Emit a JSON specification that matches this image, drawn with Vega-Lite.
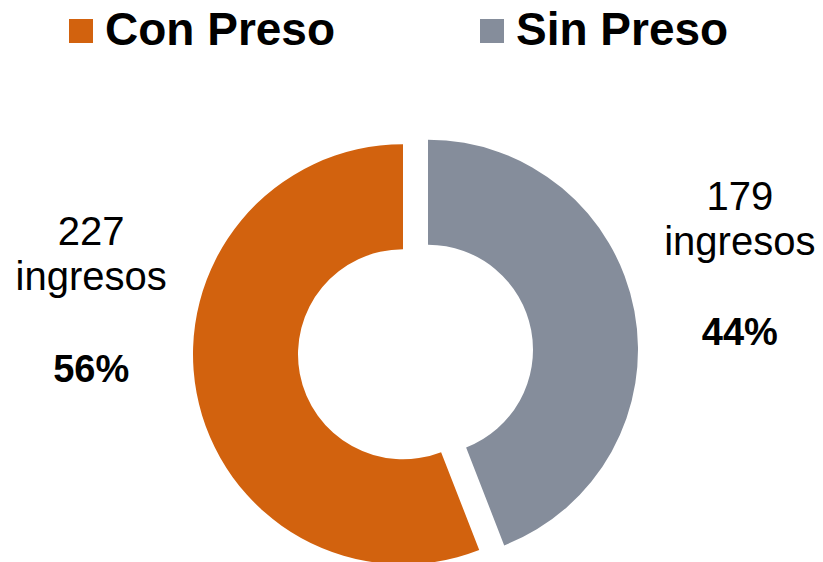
{
  "$schema": "https://vega.github.io/schema/vega-lite/v6.json",
  "width": 815,
  "height": 420,
  "autosize": {"type": "none"},
  "padding": {"left": 8, "top": 142, "right": 0, "bottom": 0},
  "background": "white",
  "config": {"view": {"stroke": null}, "font": "Liberation Sans"},
  "data": {"values": [
    {"cat": "Con Preso", "n": 227, "pct": "56%"},
    {"cat": "Sin Preso", "n": 179, "pct": "44%"}
  ]},
  "encoding": {
    "theta": {"field": "n", "type": "quantitative", "stack": true},
    "order": {"field": "cat", "sort": "descending"}
  },
  "layer": [
    {
      "mark": {"type": "arc", "outerRadius": 210, "innerRadius": 105, "xOffset": 12.5, "yOffset": -2.3},
      "encoding": {
        "color": {"field": "cat", "type": "nominal",
          "scale": {"domain": ["Con Preso", "Sin Preso"], "range": ["#D2620E", "#858D9B"]},
          "legend": {"orient": "none", "legendX": 50, "legendY": -134, "direction": "horizontal", "columns": 2,
            "title": null, "symbolType": "square", "symbolSize": 576, "symbolStrokeWidth": 0,
            "labelFont": "Liberation Sans", "labelFontSize": 46, "labelFontWeight": "bold", "labelColor": "black",
            "labelOffset": 1, "columnPadding": 133, "padding": 0, "labelLimit": 400}},
        "opacity": {"condition": {"test": "datum.cat === 'Sin Preso'", "value": 1}, "value": 0}
      }
    },
    {
      "mark": {"type": "arc", "outerRadius": 210, "innerRadius": 105, "xOffset": -12.5, "yOffset": 2.3},
      "encoding": {
        "color": {"field": "cat", "type": "nominal",
          "scale": {"domain": ["Con Preso", "Sin Preso"], "range": ["#D2620E", "#858D9B"]}},
        "opacity": {"condition": {"test": "datum.cat === 'Con Preso'", "value": 1}, "value": 0}
      }
    },
    {
      "mark": {"type": "text", "radius": 330, "dy": -81, "fontSize": 40, "color": "black", "align": "center", "baseline": "alphabetic"},
      "encoding": {
        "text": {"field": "n", "type": "quantitative"},
        "opacity": {"condition": {"test": "datum.cat === 'Sin Preso'", "value": 1}, "value": 0}
      }
    },
    {
      "mark": {"type": "text", "radius": 330, "dy": -36, "fontSize": 40, "color": "black", "align": "center", "baseline": "alphabetic"},
      "encoding": {
        "text": {"value": "ingresos"},
        "opacity": {"condition": {"test": "datum.cat === 'Sin Preso'", "value": 1}, "value": 0}
      }
    },
    {
      "mark": {"type": "text", "radius": 330, "dy": 54, "fontSize": 38, "fontWeight": "bold", "color": "black", "align": "center", "baseline": "alphabetic"},
      "encoding": {
        "text": {"field": "pct", "type": "nominal"},
        "opacity": {"condition": {"test": "datum.cat === 'Sin Preso'", "value": 1}, "value": 0}
      }
    },
    {
      "mark": {"type": "text", "radius": 330, "dy": -168, "fontSize": 40, "color": "black", "align": "center", "baseline": "alphabetic"},
      "encoding": {
        "text": {"field": "n", "type": "quantitative"},
        "opacity": {"condition": {"test": "datum.cat === 'Con Preso'", "value": 1}, "value": 0}
      }
    },
    {
      "mark": {"type": "text", "radius": 330, "dy": -123, "fontSize": 40, "color": "black", "align": "center", "baseline": "alphabetic"},
      "encoding": {
        "text": {"value": "ingresos"},
        "opacity": {"condition": {"test": "datum.cat === 'Con Preso'", "value": 1}, "value": 0}
      }
    },
    {
      "mark": {"type": "text", "radius": 330, "dy": -31, "fontSize": 38, "fontWeight": "bold", "color": "black", "align": "center", "baseline": "alphabetic"},
      "encoding": {
        "text": {"field": "pct", "type": "nominal"},
        "opacity": {"condition": {"test": "datum.cat === 'Con Preso'", "value": 1}, "value": 0}
      }
    }
  ]
}
